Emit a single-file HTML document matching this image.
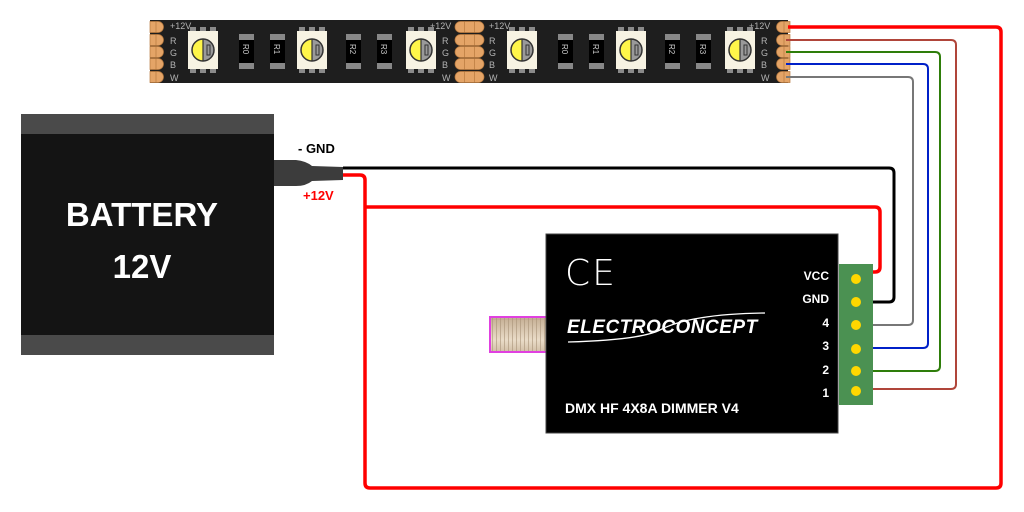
<!DOCTYPE html>
<html><head><meta charset="utf-8"><style>
html,body{margin:0;padding:0;background:#fff;}
svg{display:block;font-family:"Liberation Sans",sans-serif;}
</style></head><body>
<svg width="1024" height="512" viewBox="0 0 1024 512" xmlns="http://www.w3.org/2000/svg">
<defs>
<linearGradient id="ant" x1="0" y1="0" x2="0" y2="1">
<stop offset="0" stop-color="#c9b49a"/><stop offset="0.5" stop-color="#eadcc8"/><stop offset="1" stop-color="#c2ab90"/>
</linearGradient>
<pattern id="thr" width="4" height="40" patternUnits="userSpaceOnUse">
<rect width="4" height="40" fill="url(#ant)"/><rect x="0" width="1" height="40" fill="#a89278" opacity="0.6"/>
</pattern>
<g id="led">
<rect x="2" y="-4" width="6" height="5" fill="#8a8a8a"/><rect x="12" y="-4" width="6" height="5" fill="#8a8a8a"/><rect x="22" y="-4" width="6" height="5" fill="#8a8a8a"/>
<rect x="2" y="37" width="6" height="5" fill="#8a8a8a"/><rect x="12" y="37" width="6" height="5" fill="#8a8a8a"/><rect x="22" y="37" width="6" height="5" fill="#8a8a8a"/>
<rect x="0" y="0" width="30" height="38" fill="#f7f3e3"/>
<path d="M15 8 A11 11 0 0 0 15 30 Z" fill="#fff64a"/>
<path d="M15 8 A11 11 0 0 1 15 30 Z" fill="#9a9a9a"/>
<circle cx="15" cy="19" r="11" fill="none" stroke="#333" stroke-width="1.5"/>
<line x1="15" y1="8" x2="15" y2="30" stroke="#333" stroke-width="1.2"/>
<rect x="19" y="14" width="3" height="10" fill="none" stroke="#333" stroke-width="1"/>
</g>
<g id="res">
<rect x="0" y="0" width="15" height="6" fill="#888"/>
<rect x="0" y="6" width="15" height="23" fill="#000"/>
<rect x="0" y="29" width="15" height="6" fill="#888"/>
</g>
<g id="seg">
<rect x="0" y="20" width="319" height="63" fill="#1e1e1e"/>
<g fill="#b3b3b3" font-size="9">
<text x="20" y="29">+12V</text><text x="280" y="29">+12V</text>
<text x="20" y="44">R</text><text x="20" y="56">G</text><text x="20" y="68">B</text><text x="20" y="81">W</text>
<text x="292" y="44">R</text><text x="292" y="56">G</text><text x="292" y="68">B</text><text x="292" y="81">W</text>
</g>
<use href="#led" x="38" y="31"/><use href="#led" x="147" y="31"/><use href="#led" x="256" y="31"/>
<use href="#res" x="89" y="34"/><use href="#res" x="120" y="34"/><use href="#res" x="196" y="34"/><use href="#res" x="227" y="34"/>
<g fill="#ccc" font-size="8">
<text transform="translate(93,44) rotate(90)">R0</text><text transform="translate(124,44) rotate(90)">R1</text>
<text transform="translate(200,44) rotate(90)">R2</text><text transform="translate(231,44) rotate(90)">R3</text>
</g>
</g>
<g id="padL"><path d="M0 0 h8 a5.5 5.5 0 0 1 0 11 h-8 z" fill="#e4a467" stroke="#b87a3f" stroke-width="0.7"/><line x1="6" y1="0" x2="6" y2="11" stroke="#b87a3f" stroke-width="0.7"/></g>
<g id="padR"><path d="M14 0 h-8 a5.5 5.5 0 0 0 0 11 h8 z" fill="#e4a467" stroke="#b87a3f" stroke-width="0.7"/><line x1="8" y1="0" x2="8" y2="11" stroke="#b87a3f" stroke-width="0.7"/></g>
<g id="padM"><rect x="0" y="0" width="29" height="11" rx="5.5" fill="#e4a467" stroke="#b87a3f" stroke-width="0.7"/><line x1="9.5" y1="0" x2="9.5" y2="11" stroke="#b87a3f" stroke-width="0.7"/><line x1="19.5" y1="0" x2="19.5" y2="11" stroke="#b87a3f" stroke-width="0.7"/></g>
</defs>

<use href="#seg" x="150"/>
<use href="#seg" x="469"/>
<g>
<use href="#padL" x="150" y="21.5"/><use href="#padL" x="150" y="34.5"/><use href="#padL" x="150" y="46.5"/><use href="#padL" x="150" y="58.5"/><use href="#padL" x="150" y="71.5"/>
<use href="#padM" x="455" y="21.5"/><use href="#padM" x="455" y="34.5"/><use href="#padM" x="455" y="46.5"/><use href="#padM" x="455" y="58.5"/><use href="#padM" x="455" y="71.5"/>
<use href="#padR" x="776" y="21.5"/><use href="#padR" x="776" y="34.5"/><use href="#padR" x="776" y="46.5"/><use href="#padR" x="776" y="58.5"/><use href="#padR" x="776" y="71.5"/>
</g>

<g fill="none" stroke-linejoin="round">
<path d="M788 27 H996 Q1001 27 1001 32 V483 Q1001 488 996 488 H370 Q365 488 365 483 V180 Q365 175 360 175 H343" stroke="#ff0000" stroke-width="3.5"/>
<path d="M365 207 H875 Q880 207 880 212 V267 Q880 272 875 272 H868" stroke="#ff0000" stroke-width="3.5"/>
<path d="M343 168 H889 Q894 168 894 173 V297 Q894 302 889 302 H868" stroke="#000" stroke-width="3"/>
<path d="M786 40 H951 Q956 40 956 45 V384 Q956 389 951 389 H868" stroke="#b0453a" stroke-width="2"/>
<path d="M786 52 H935 Q940 52 940 57 V366 Q940 371 935 371 H868" stroke="#2e7d0a" stroke-width="2"/>
<path d="M786 64 H923 Q928 64 928 69 V343 Q928 348 923 348 H868" stroke="#0020c8" stroke-width="2"/>
<path d="M786 77 H908 Q913 77 913 82 V320 Q913 325 908 325 H868" stroke="#777" stroke-width="2"/>
</g>

<rect x="21" y="114" width="253" height="241" fill="#141414"/>
<rect x="21" y="114" width="253" height="20" fill="#4a4a4a"/>
<rect x="21" y="335" width="253" height="20" fill="#4a4a4a"/>
<text x="142" y="226" fill="#fff" font-size="33" font-weight="bold" text-anchor="middle">BATTERY</text>
<text x="142" y="278" fill="#fff" font-size="33" font-weight="bold" text-anchor="middle">12V</text>
<path d="M274 160 H296 Q306 161 312 166 L343 167 V180 L312 181 Q306 186 296 186 H274 Z" fill="#3c3c3c"/>
<text x="298" y="153" font-size="13" font-weight="bold" fill="#000">- GND</text>
<text x="303" y="200" font-size="13" font-weight="bold" fill="#ff0000">+12V</text>

<rect x="490" y="317" width="57" height="35" fill="url(#thr)" stroke="#e040e0" stroke-width="2"/>

<rect x="546" y="234" width="292" height="199" fill="#000" stroke="#444" stroke-width="1"/>
<text x="565" y="285" fill="#fff" font-size="36" font-family="DejaVu Sans, sans-serif" font-weight="300" letter-spacing="2">CE</text>
<text x="567" y="333" fill="#fff" font-size="19" font-weight="bold" font-style="italic" letter-spacing="0.5">ELECTROCONCEPT</text>
<path d="M568 342 Q640 340 660 330 Q690 314 765 313" fill="none" stroke="#fff" stroke-width="1.3"/>
<text x="565" y="413" fill="#fff" font-size="14" font-weight="bold">DMX HF 4X8A DIMMER V4</text>
<g fill="#fff" font-size="12" font-weight="bold" text-anchor="end">
<text x="829" y="280">VCC</text><text x="829" y="303">GND</text><text x="829" y="327">4</text>
<text x="829" y="350">3</text><text x="829" y="374">2</text><text x="829" y="397">1</text>
</g>
<rect x="839" y="264" width="34" height="141" fill="#4b9152"/>
<g fill="#ffd700">
<circle cx="856" cy="279" r="5"/><circle cx="856" cy="302" r="5"/><circle cx="856" cy="325" r="5"/>
<circle cx="856" cy="349" r="5"/><circle cx="856" cy="371" r="5"/><circle cx="856" cy="391" r="5"/>
</g>
</svg>
</body></html>
